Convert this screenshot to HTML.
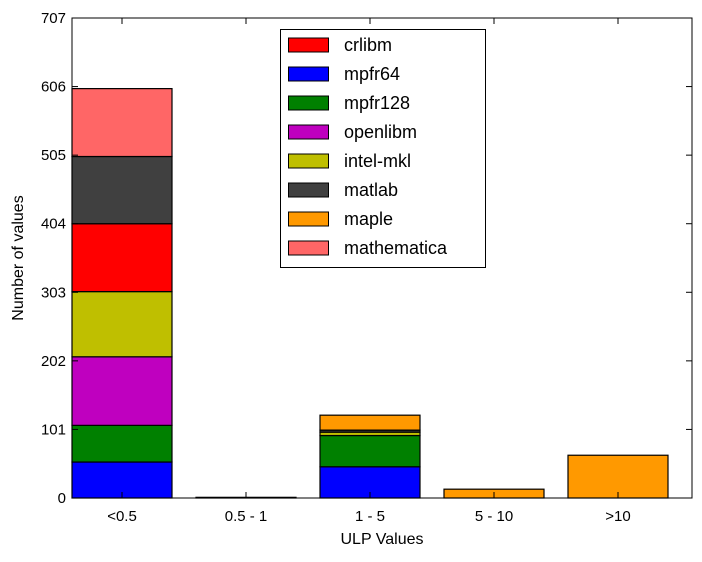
<!DOCTYPE html>
<html><head><meta charset="utf-8"><style>
body{margin:0;background:#fff;font-family:"Liberation Sans",sans-serif}
text{font-family:"Liberation Sans",sans-serif}
</style></head><body>
<svg id="chart" width="702" height="557">
<rect x="0" y="0" width="702" height="557" fill="#fff"/>
<g id="bars"></g>
<rect x="72" y="18" width="620" height="480" fill="none" stroke="#000" stroke-width="1"/>
<g id="axes"></g>
<text x="382" y="544" font-size="16" text-anchor="middle">ULP Values</text>
<text transform="translate(23,258) rotate(-90)" font-size="16" text-anchor="middle">Number of values</text>
<g id="legend"></g>
</svg>
<script>
const categories=["<0.5","0.5 - 1","1 - 5","5 - 10",">10"];
const seriesNames=["mpfr64","mpfr128","openlibm","intel-mkl","crlibm","matlab","maple","mathematica"];
const mpfr64=[53,0,46,0,0];
const mpfr128=[54,0,46,0,0];
const openlibm=[101,0,0,0,0];
const intelMkl=[96,0,5,0,0];
const crlibm=[100,1,0,0,0];
const matlab=[99,0,3,0,0];
const maple=[0,0,22,13,63];
const mathematica=[100,0,0,0,0];
const yTicks=[0,101,202,303,404,505,606,707];
const legendOrder=["crlibm","mpfr64","mpfr128","openlibm","intel-mkl","matlab","maple","mathematica"];
const colors={"mpfr64":"#0000ff","mpfr128":"#008000","openlibm":"#bf00bf","intel-mkl":"#bfbf00","crlibm":"#ff0000","matlab":"#404040","maple":"#ff9900","mathematica":"#ff6666"};
const seriesData=[mpfr64,mpfr128,openlibm,intelMkl,crlibm,matlab,maple,mathematica];
const NS="http://www.w3.org/2000/svg";
const y=v=>498-v*480/707;
const xLeft=i=>72+124*i;
function mk(t,a,p){const e=document.createElementNS(NS,t);for(const k in a)e.setAttribute(k,a[k]);p.appendChild(e);return e;}
const gb=document.getElementById('bars');
categories.forEach((c,i)=>{let base=0;
seriesData.forEach((s,j)=>{const v=s[i];if(v<=0)return;
const r=mk('rect',{x:xLeft(i),y:y(base+v),width:100,height:y(base)-y(base+v),fill:colors[seriesNames[j]],stroke:"#000","stroke-width":1.2},gb);


base+=v;});});
const ga=document.getElementById('axes');
yTicks.forEach(t=>{const yy=y(t);
mk('line',{x1:72,x2:78,y1:yy,y2:yy,stroke:"#000"},ga);
mk('line',{x1:686,x2:692,y1:yy,y2:yy,stroke:"#000"},ga);
const tx=mk('text',{x:66,y:yy+5,"font-size":15,"text-anchor":"end"},ga);tx.textContent=t;

});
categories.forEach((c,i)=>{const cx=xLeft(i)+50;
mk('line',{x1:cx,x2:cx,y1:492,y2:498,stroke:"#000"},ga);
mk('line',{x1:cx,x2:cx,y1:18,y2:24,stroke:"#000"},ga);
const tx=mk('text',{x:cx,y:521,"font-size":15,"text-anchor":"middle"},ga);tx.textContent=c;

});
const gl=document.getElementById('legend');


mk('rect',{x:280.5,y:29.5,width:205,height:238,fill:"#fff",stroke:"#000"},gl);
legendOrder.forEach((n,k)=>{const yy=45+29*k;
const g=mk('g',{},gl);


mk('rect',{x:288.5,y:yy-7,width:40,height:14,fill:colors[n],stroke:"#000"},g);
const t=mk('text',{x:344,y:yy+6,"font-size":18},g);t.textContent=n;});
</script>
</body></html>
